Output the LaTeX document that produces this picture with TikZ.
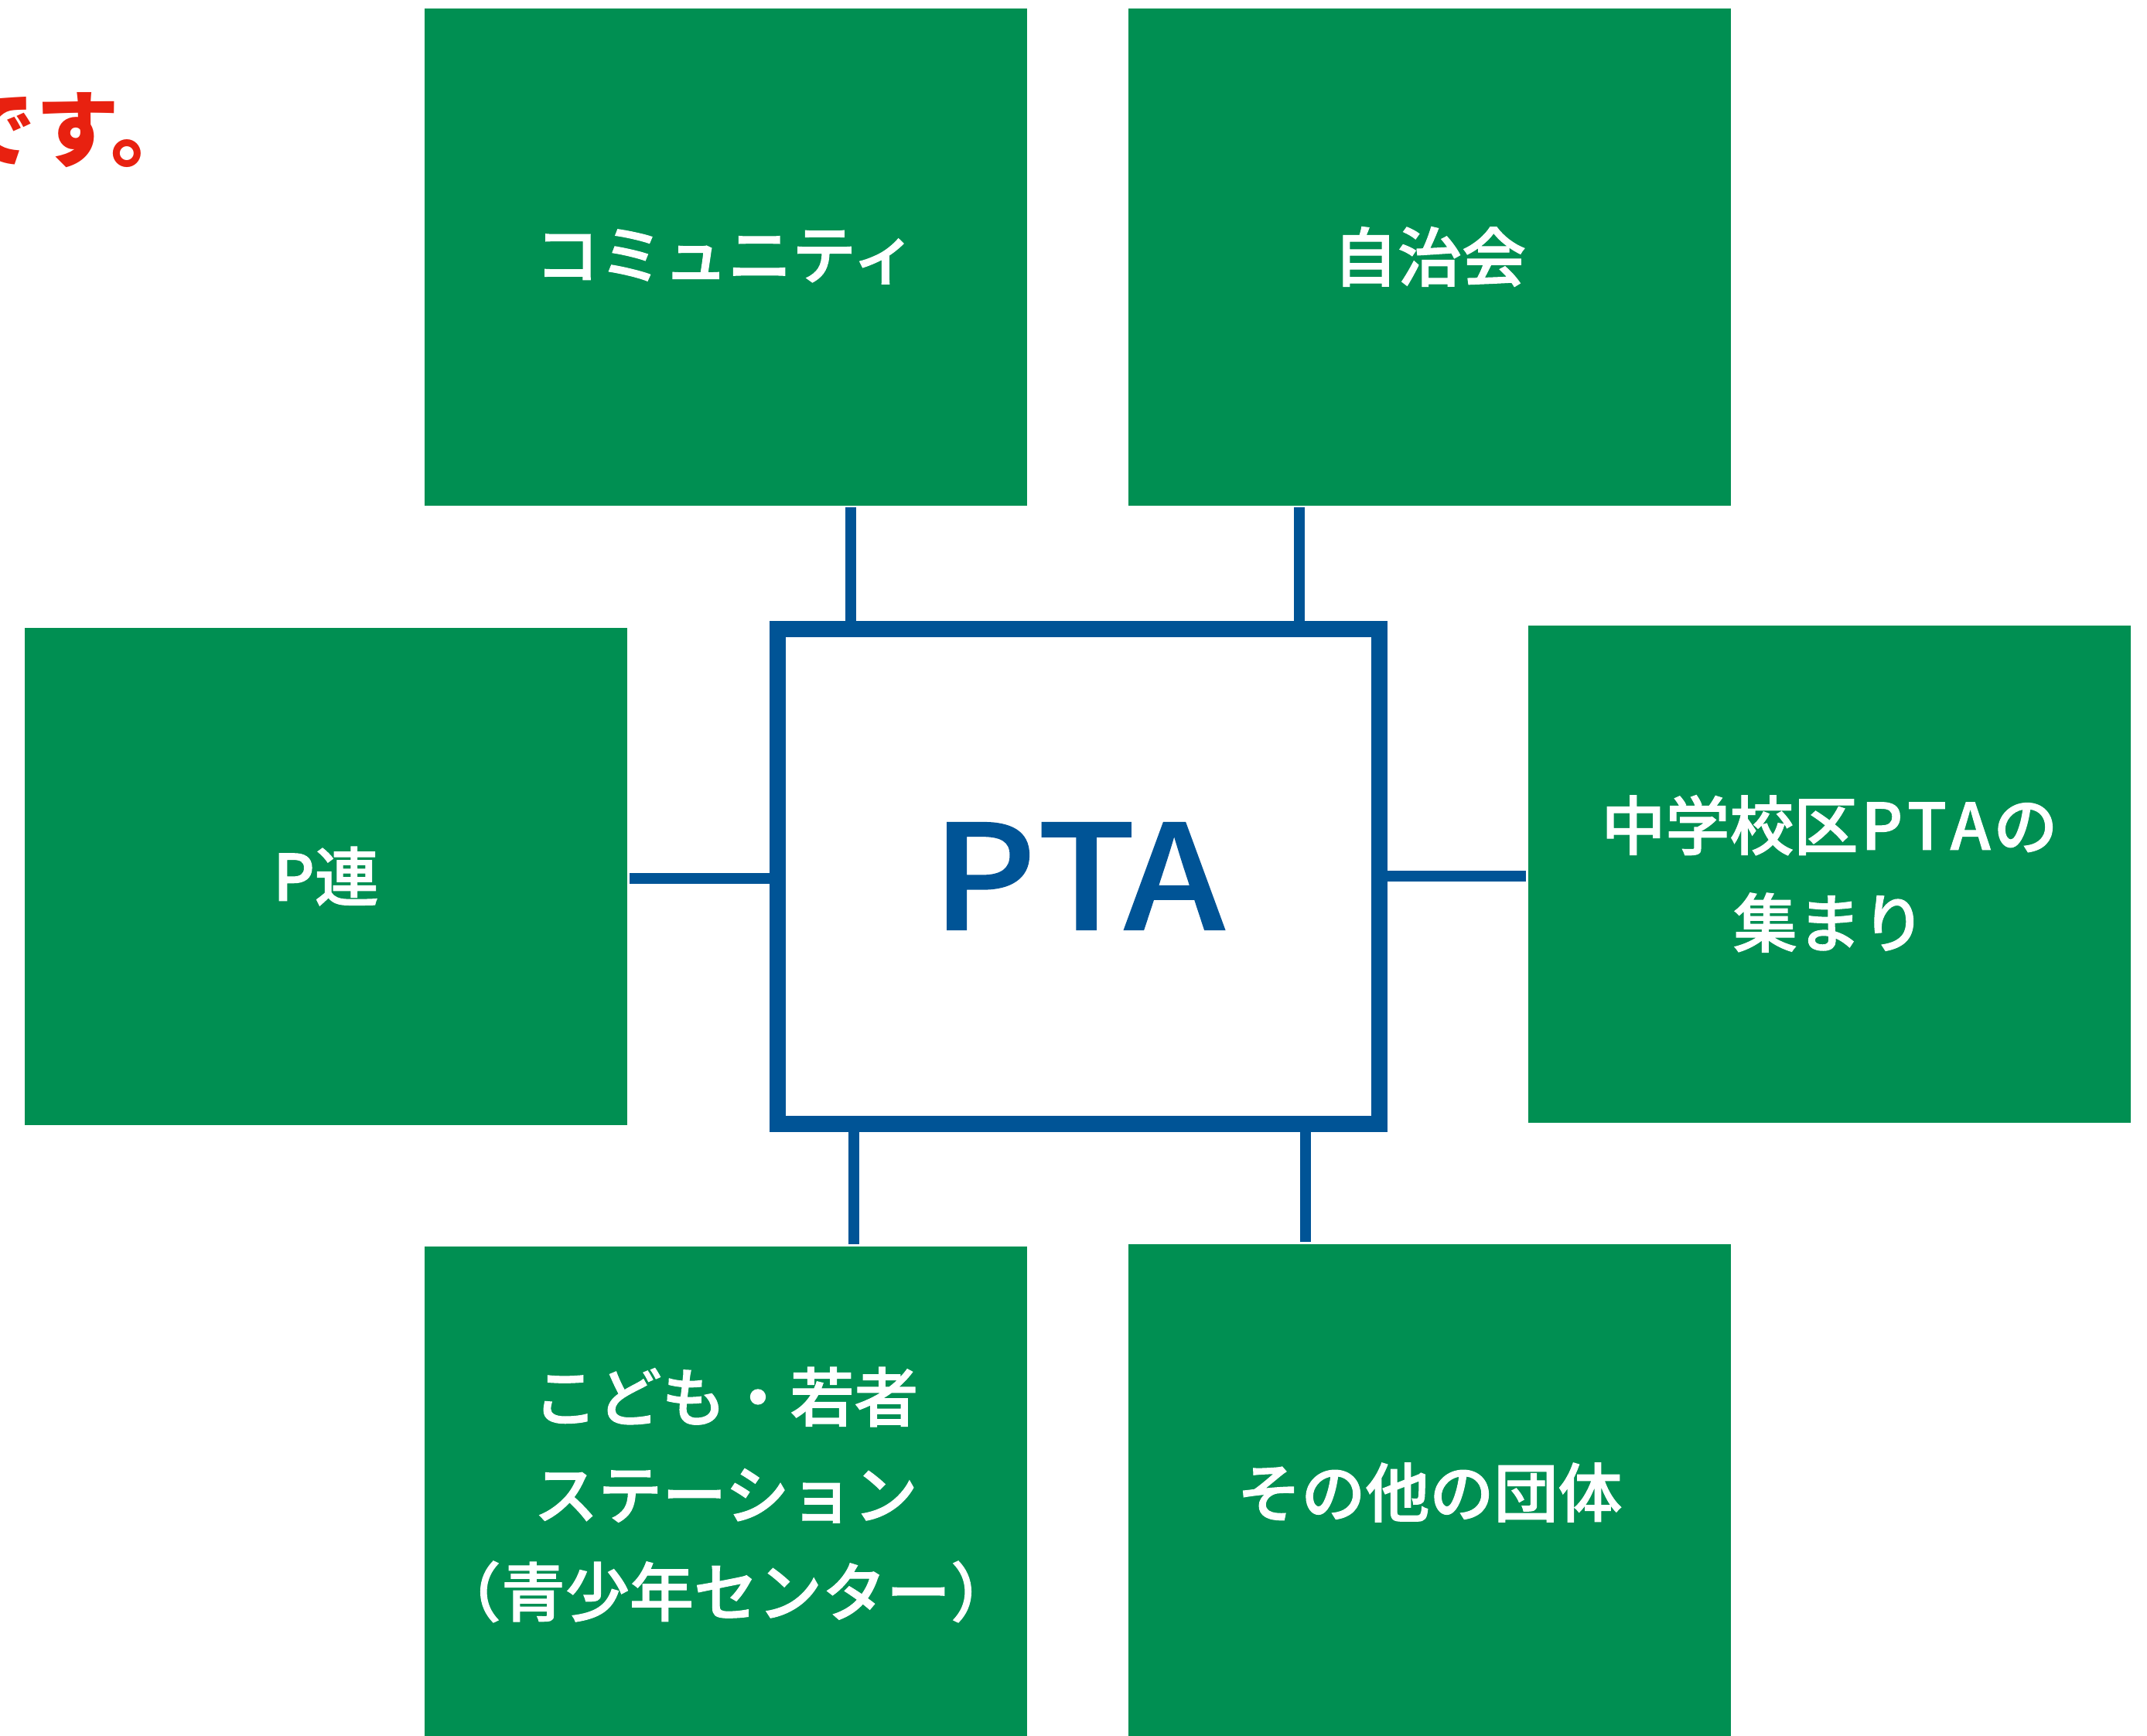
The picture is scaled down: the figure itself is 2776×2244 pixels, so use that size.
\documentclass[tikz,border=0pt]{standalone}
\usepackage{fontspec}
\setmainfont{Noto Sans CJK JP}
\newfontfamily\medfont[FakeBold=1.3]{Noto Sans CJK JP Medium}
\newfontfamily\ptafont[FakeBold=0.8]{Noto Sans CJK JP Medium}
\definecolor{pgreen}{RGB}{0,143,82}
\definecolor{pblue}{RGB}{0,84,150}
\definecolor{pred}{RGB}{232,33,16}
\tikzset{
  grp/.style={fill=pgreen, draw=none, minimum width=779pt, minimum height=643pt,
    inner sep=0pt, text=white, align=center,
    font=\medfont\fontsize{83pt}{126pt}\selectfont},
  conn/.style={draw=pblue, line width=13.5pt},
  ptabox/.style={draw=pblue, fill=white, line width=21pt, minimum width=778pt,
    minimum height=640pt, inner sep=0pt, text=pblue,
    font=\ptafont\fontsize{195pt}{200pt}\selectfont},
}
\begin{document}
\begin{tikzpicture}[x=1pt,y=-1pt]
\useasboundingbox (0,0) rectangle (2776,2244);
\clip (0,0) rectangle (2776,2244);
\fill[white] (0,0) rectangle (2776,2244);
% red partial heading
\node[anchor=base east, inner sep=0pt, text=pred, font=\fontsize{108pt}{110pt}\selectfont\bfseries] (head) at (252,207) {です。};
% boxes
\node[grp] (comm) at (938.5,332) {コミュニティ};
\node[grp] (jichi) at (1848.5,332) {自治会};
\node[grp] (pren) at (421.5,1133) {P連};
\node[grp] (chu) at (2365.5,1130) {中学校区\kern4pt P\kern6pt T\kern5pt A\kern4pt の\\集まり};
\node[grp] (kodomo) at (938.5,1933) {こども・若者\\ステーション\\（青少年センター）};
\node[grp] (other) at (1848.5,1930) {その他の団体};
\node[ptabox] (pta) at (1394,1133) {\scalebox{1.07}[0.965]{P\kern1pt T\kern-14pt A}};
% connectors
\draw[conn] ([xshift=161.5pt,yshift=-2pt]comm.south) -- ([xshift=161.5pt]comm.south |- pta.north);
\draw[conn] ([xshift=-168.5pt,yshift=-2pt]jichi.south) -- ([xshift=-168.5pt]jichi.south |- pta.north);
\draw[conn] ([xshift=3pt,yshift=-3pt]pren.east) -- ([yshift=-3pt]pren.east -| pta.west);
\draw[conn] ([yshift=-3pt]chu.west -| pta.east) -- ([xshift=-3pt,yshift=-3pt]chu.west);
\draw[conn] ([xshift=165.5pt]kodomo.north |- pta.south) -- ([xshift=165.5pt,yshift=2pt]kodomo.north);
\draw[conn] ([xshift=-160.5pt]other.north |- pta.south) -- ([xshift=-160.5pt,yshift=2pt]other.north);
\end{tikzpicture}
\end{document}
